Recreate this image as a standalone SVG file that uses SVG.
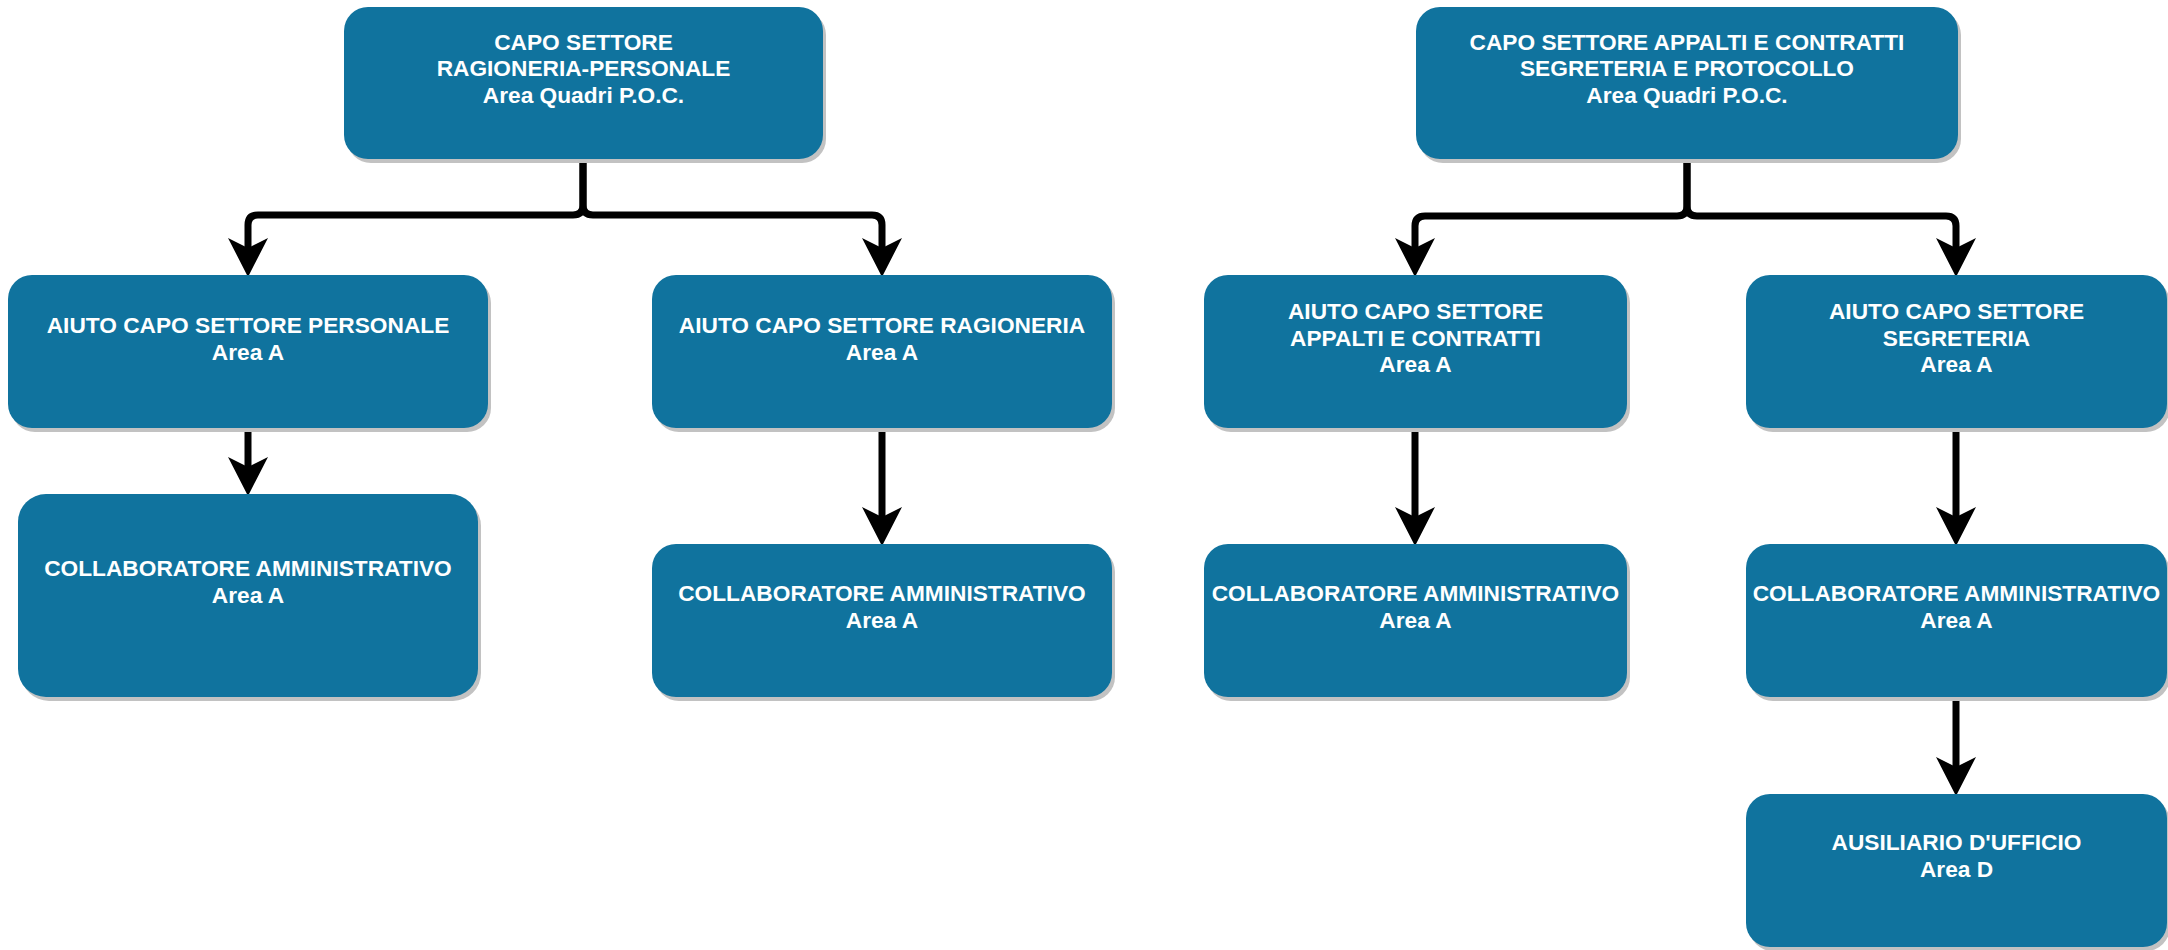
<svg xmlns="http://www.w3.org/2000/svg" width="2168" height="950" viewBox="0 0 2168 950">
<style>
.box{fill:#10739E;}
.sh{fill:#c2c2c2;}
.t{font-family:"Liberation Sans",Arial,Helvetica,sans-serif;font-weight:bold;font-size:22.7px;fill:#ffffff;text-anchor:middle;}
.c{fill:none;stroke:#000000;stroke-width:7;stroke-linejoin:round;}
</style>
<defs>
<marker id="arr" markerUnits="userSpaceOnUse" markerWidth="40" markerHeight="40" viewBox="0 0 36 36" refX="9" refY="18" orient="auto">
<path d="M35,18 L0,0 L9,18 L0,36 Z" fill="#000000"/>
</marker>
</defs>
<rect width="2168" height="950" fill="#ffffff"/>

<g id="connectors">
<path class="c" marker-end="url(#arr)" d="M583,159 V205 Q583,215 573,215 H258 Q248,215 248,225 V248"/>
<path class="c" marker-end="url(#arr)" d="M583,159 V205 Q583,215 593,215 H872 Q882,215 882,225 V248"/>
<path class="c" marker-end="url(#arr)" d="M1687,159 V206 Q1687,216 1677,216 H1425 Q1415,216 1415,226 V248"/>
<path class="c" marker-end="url(#arr)" d="M1687,159 V206 Q1687,216 1697,216 H1946 Q1956,216 1956,226 V248"/>
<path class="c" marker-end="url(#arr)" d="M248,428 V467"/>
<path class="c" marker-end="url(#arr)" d="M882,428 V517"/>
<path class="c" marker-end="url(#arr)" d="M1415,428 V517"/>
<path class="c" marker-end="url(#arr)" d="M1956,428 V517"/>
<path class="c" marker-end="url(#arr)" d="M1956,697 V767"/>
</g>

<g id="capo-ragioneria-personale">
<rect class="sh" x="347" y="11" width="479" height="152" rx="24"/>
<rect class="box" x="344" y="7" width="479" height="152" rx="24"/>
<text class="t" x="583.5" y="49.5">CAPO SETTORE</text>
<text class="t" x="583.5" y="76">RAGIONERIA-PERSONALE</text>
<text class="t" x="583.5" y="102.5">Area Quadri P.O.C.</text>
</g>

<g id="capo-appalti-segreteria">
<rect class="sh" x="1419" y="11" width="542" height="152" rx="24"/>
<rect class="box" x="1416" y="7" width="542" height="152" rx="24"/>
<text class="t" x="1687" y="49.5">CAPO SETTORE APPALTI E CONTRATTI</text>
<text class="t" x="1687" y="76">SEGRETERIA E PROTOCOLLO</text>
<text class="t" x="1687" y="102.5">Area Quadri P.O.C.</text>
</g>

<g id="aiuto-personale">
<rect class="sh" x="11" y="279" width="480" height="153" rx="24"/>
<rect class="box" x="8" y="275" width="480" height="153" rx="24"/>
<text class="t" x="248" y="333">AIUTO CAPO SETTORE PERSONALE</text>
<text class="t" x="248" y="360">Area A</text>
</g>

<g id="aiuto-ragioneria">
<rect class="sh" x="655" y="279" width="460" height="153" rx="24"/>
<rect class="box" x="652" y="275" width="460" height="153" rx="24"/>
<text class="t" x="882" y="333">AIUTO CAPO SETTORE RAGIONERIA</text>
<text class="t" x="882" y="360">Area A</text>
</g>

<g id="aiuto-appalti">
<rect class="sh" x="1207" y="279" width="423" height="153" rx="24"/>
<rect class="box" x="1204" y="275" width="423" height="153" rx="24"/>
<text class="t" x="1415.5" y="319">AIUTO CAPO SETTORE</text>
<text class="t" x="1415.5" y="345.5">APPALTI E CONTRATTI</text>
<text class="t" x="1415.5" y="372">Area A</text>
</g>

<g id="aiuto-segreteria">
<rect class="sh" x="1749" y="279" width="421" height="153" rx="24"/>
<rect class="box" x="1746" y="275" width="421" height="153" rx="24"/>
<text class="t" x="1956.5" y="319">AIUTO CAPO SETTORE</text>
<text class="t" x="1956.5" y="345.5">SEGRETERIA</text>
<text class="t" x="1956.5" y="372">Area A</text>
</g>

<g id="collaboratore-personale">
<rect class="sh" x="21" y="498" width="460" height="203" rx="28"/>
<rect class="box" x="18" y="494" width="460" height="203" rx="28"/>
<text class="t" x="248" y="576">COLLABORATORE AMMINISTRATIVO</text>
<text class="t" x="248" y="603">Area A</text>
</g>

<g id="collaboratore-ragioneria">
<rect class="sh" x="655" y="548" width="460" height="153" rx="24"/>
<rect class="box" x="652" y="544" width="460" height="153" rx="24"/>
<text class="t" x="882" y="601">COLLABORATORE AMMINISTRATIVO</text>
<text class="t" x="882" y="628">Area A</text>
</g>

<g id="collaboratore-appalti">
<rect class="sh" x="1207" y="548" width="423" height="153" rx="24"/>
<rect class="box" x="1204" y="544" width="423" height="153" rx="24"/>
<text class="t" x="1415.5" y="601">COLLABORATORE AMMINISTRATIVO</text>
<text class="t" x="1415.5" y="628">Area A</text>
</g>

<g id="collaboratore-segreteria">
<rect class="sh" x="1749" y="548" width="421" height="153" rx="24"/>
<rect class="box" x="1746" y="544" width="421" height="153" rx="24"/>
<text class="t" x="1956.5" y="601">COLLABORATORE AMMINISTRATIVO</text>
<text class="t" x="1956.5" y="628">Area A</text>
</g>

<g id="ausiliario">
<rect class="sh" x="1749" y="798" width="421" height="153" rx="24"/>
<rect class="box" x="1746" y="794" width="421" height="153" rx="24"/>
<text class="t" x="1956.5" y="850">AUSILIARIO D'UFFICIO</text>
<text class="t" x="1956.5" y="877">Area D</text>
</g>
</svg>
